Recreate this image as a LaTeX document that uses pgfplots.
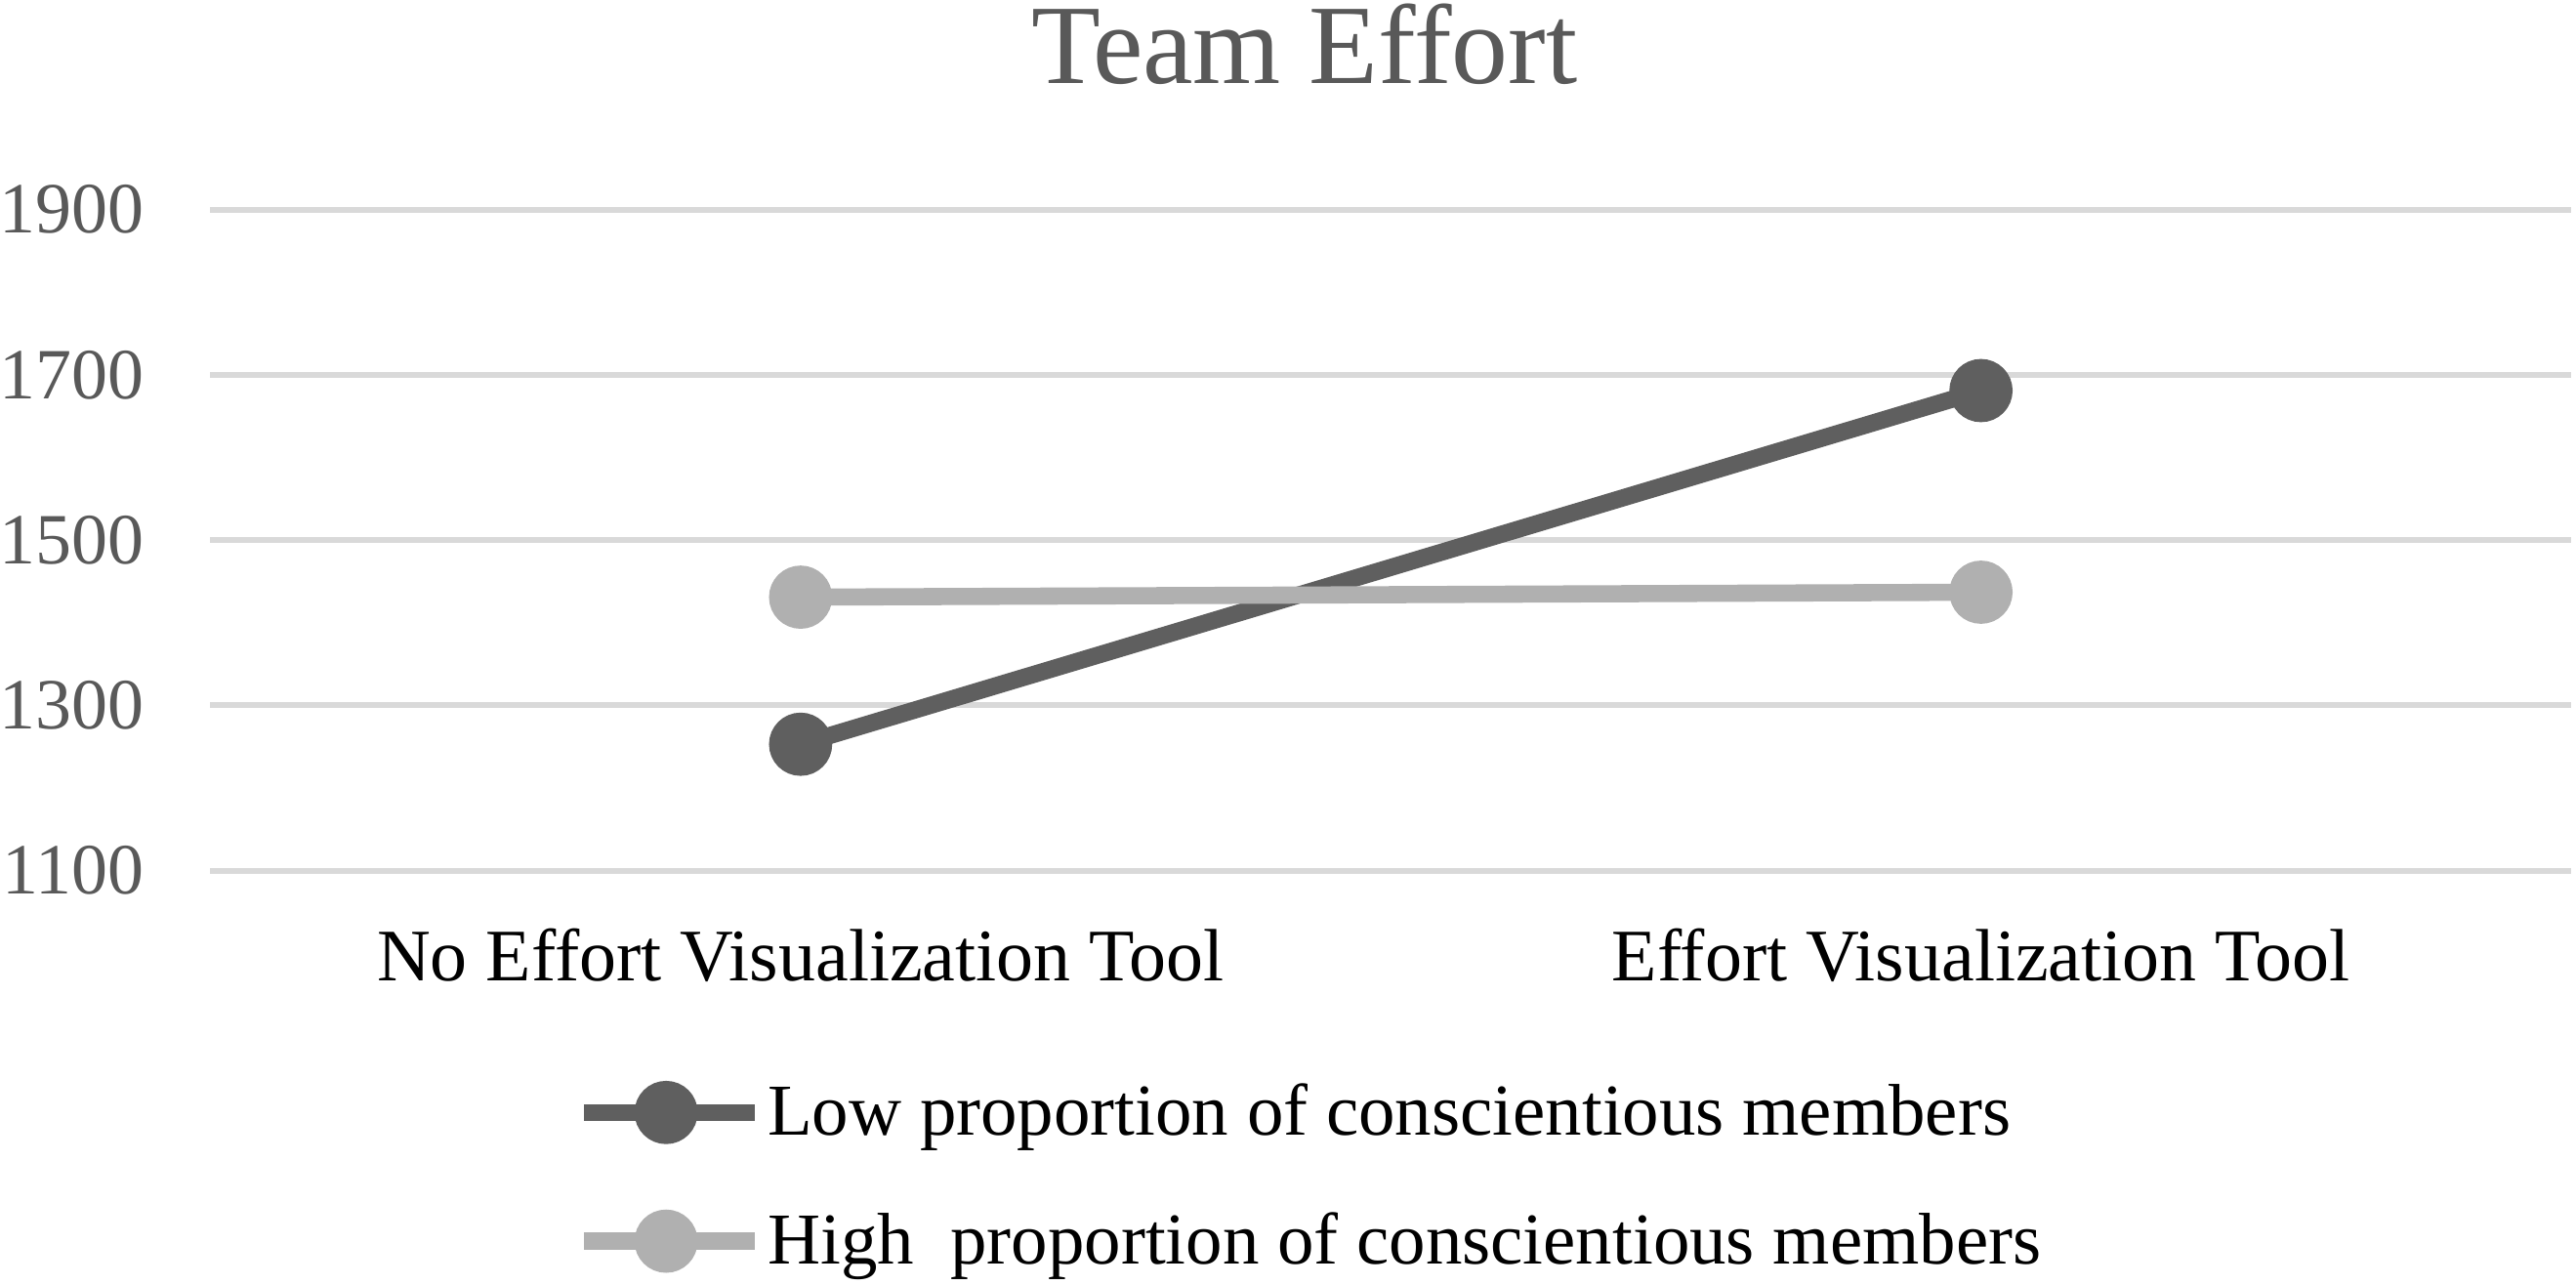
\documentclass[border=0pt]{standalone}
\usepackage{fontspec}
\setmainfont{Liberation Serif}
\usepackage{pgfplots}
\pgfplotsset{compat=1.18}
\definecolor{darkline}{HTML}{5F5F5F}
\definecolor{lightline}{HTML}{B0B0B0}
\definecolor{txtgray}{HTML}{595959}
\definecolor{gridgray}{HTML}{D9D9D9}
\begin{document}
\begin{tikzpicture}
\begin{axis}[
  name=ax,
  scale only axis,
  width=605.25pt, height=169.5pt,
  xmin=-0.5, xmax=1.5,
  ymin=1100, ymax=1900,
  xtick={0,1},
  xticklabels={No Effort Visualization Tool, Effort Visualization Tool},
  ytick={1100,1300,1500,1700,1900},
  axis line style={draw=none},
  tick style={draw=none},
  ymajorgrids,
  grid style={color=gridgray, line width=1.5pt},
  /pgf/number format/assume math mode=true,
  /pgf/number format/1000 sep={},
  yticklabel style={font=\fontsize{18.5pt}{20pt}\selectfont, text=txtgray, anchor=east, inner sep=0pt, xshift=-16.75pt},
  xticklabel style={font=\fontsize{19pt}{21pt}\selectfont, text=black, anchor=base, inner sep=0pt, yshift=-28.25pt},
  title={Team Effort},
  title style={font=\fontsize{29pt}{32pt}\selectfont, text=txtgray, at={(0.4634,1)}, anchor=base, inner sep=0pt, yshift=26.25pt},
  legend style={draw=none, fill=none, inner sep=0pt, outer sep=0pt,
    at={(0.1547,-0.323)}, anchor=north west,
    font=\fontsize{18.75pt}{20pt}\selectfont,
    nodes={inner sep=0pt, text height=13pt, text depth=4.5pt},
    row sep=15.5pt, column sep=1.1pt},
  legend cell align=left,
  legend image code/.code={
    \draw[mark repeat=2, mark phase=2, #1, yshift=1.5pt] plot coordinates {(0pt,0pt) (21pt,0pt) (43.75pt,0pt)};
  },
]
\addplot[darkline, line width=4.4pt, mark=*, mark size=5.9pt, mark options={fill=darkline, draw=none}]
  coordinates {(0,1253) (1,1681)};
\addlegendentry{Low proportion of conscientious members}
\addplot[lightline, line width=4.4pt, mark=*, mark size=5.9pt, mark options={fill=lightline, draw=none}]
  coordinates {(0,1431) (1,1437)};
\addlegendentry{High\ \ proportion of conscientious members}
\end{axis}
\useasboundingbox ([xshift=-53pt, yshift=-106pt]ax.south west) rectangle ([xshift=1.25pt, yshift=53.75pt]ax.north east);
\end{tikzpicture}
\end{document}
